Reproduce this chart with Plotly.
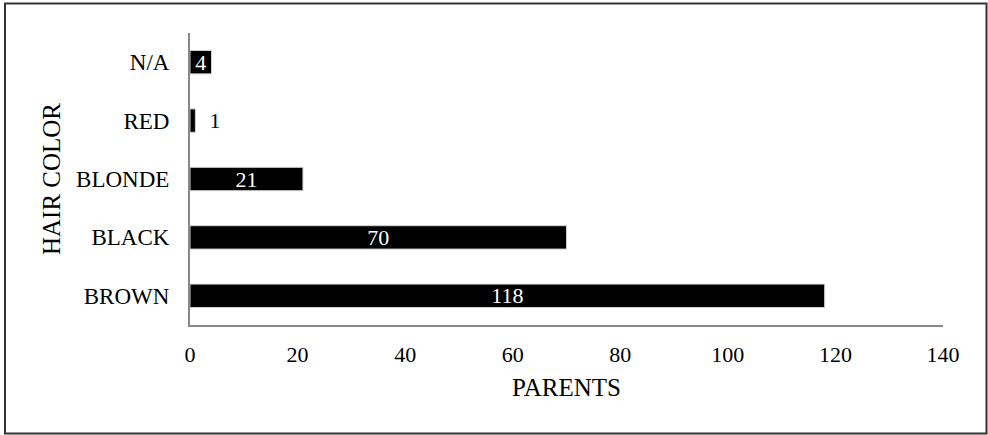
import plotly.graph_objects as go

categories = ["BROWN", "BLACK", "BLONDE", "RED", "N/A"]
parents = [118, 70, 21, 1, 4]
x_ticks = [0, 20, 40, 60, 80, 100, 120, 140]

W, H = 988, 435
ML, MR, MT, MB = 190, 45, 33, 110
PW, PH = W - ML - MR, H - MT - MB

FONT = "Liberation Serif, Times New Roman, serif"

positions = ["outside" if v < 2 else "inside" for v in parents]
labels = [("\u00a0\u00a0" + str(v)) if p == "outside" else str(v) for v, p in zip(parents, positions)]

fig = go.Figure(go.Bar(
    x=parents, y=categories, orientation="h",
    marker=dict(color="#000000", line=dict(color="#d0d0d0", width=1)),
    text=labels, textposition=positions, textangle=0,
    insidetextanchor="middle", constraintext="none", cliponaxis=False,
    insidetextfont=dict(color="#ffffff", size=22, family=FONT),
    outsidetextfont=dict(color="#000000", size=22, family=FONT),
    width=0.4, hoverinfo="skip",
))

def px_to_paper_x(px):
    return (px - ML) / PW

def px_to_paper_y(py):
    return (H - MB - py) / PH

fig.update_layout(
    width=W, height=H,
    margin=dict(l=ML, r=MR, t=MT, b=MB, pad=0),
    paper_bgcolor="white", plot_bgcolor="white",
    font=dict(family=FONT, color="#000000", size=22),
    showlegend=False,
    xaxis=dict(
        range=[0, 140], tickvals=x_ticks, showgrid=False, zeroline=False,
        showline=True, linecolor="#888888", linewidth=2,
        ticks="outside", ticklen=9, tickcolor="rgba(0,0,0,0)",
        tickfont=dict(size=22, family=FONT),
        title=dict(text="PARENTS", font=dict(size=25, family=FONT), standoff=12),
    ),
    yaxis=dict(
        range=[-0.5, 4.5], showgrid=False, zeroline=False,
        showline=True, linecolor="#888888", linewidth=2,
        ticks="outside", ticklen=14, tickcolor="rgba(0,0,0,0)",
        tickfont=dict(size=23, family=FONT),
        title=dict(text="HAIR COLOR", font=dict(size=25, family=FONT), standoff=8),
    ),
    shapes=[dict(
        type="rect", xref="paper", yref="paper",
        x0=px_to_paper_x(5), x1=px_to_paper_x(986.5),
        y0=px_to_paper_y(433.5), y1=px_to_paper_y(3.5),
        line=dict(color="#333333", width=2), fillcolor="rgba(0,0,0,0)", layer="above",
    )],
)

fig.write_html(
    "out.html",
    config={"displayModeBar": False, "staticPlot": True},
    post_script="document.body.style.margin='0';document.body.style.overflow='hidden';",
)
